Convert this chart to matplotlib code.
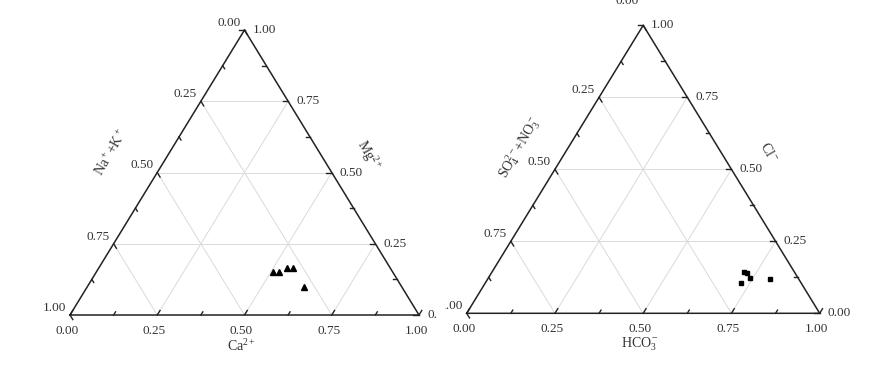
import matplotlib
matplotlib.use('Agg')
import matplotlib.pyplot as plt
import numpy as np

plt.rcParams['font.family'] = ['Liberation Serif', 'DejaVu Serif']
plt.rcParams['mathtext.fontset'] = 'custom'
plt.rcParams['mathtext.rm'] = 'Liberation Serif'
plt.rcParams['mathtext.it'] = 'Liberation Serif'

# cations: bottom = Ca2+, right = Mg2+, left = Na+ + K+
ca = [0.507, 0.524, 0.539, 0.557, 0.621]
mg = [0.151, 0.151, 0.165, 0.165, 0.098]

# anions: bottom = HCO3-, right = Cl-, left = SO4 2- + NO3-
hco3 = [0.724, 0.714, 0.724, 0.742, 0.801]
cl = [0.104, 0.144, 0.139, 0.122, 0.119]

tick_vals = [0.0, 0.25, 0.5, 0.75, 1.0]
tick_labels = ['0.00', '0.25', '0.50', '0.75', '1.00']
minor_vals = [0.125, 0.375, 0.625, 0.875]

W, H = 885, 365


def tern(b, r):
    # b = bottom component, r = right (top vertex) component
    b = np.asarray(b, float)
    r = np.asarray(r, float)
    return b + r / 2.0, r


def ternary_panel(ax, left_px, base_px, width_px, height_px, panel_w,
                  bottom_t, right_t, left_t, b_vals, r_vals, marker, ms,
                  left_off=(-50, 22), top_dy=1):
    ax.set_xlim(-left_px / width_px, (panel_w - left_px) / width_px)
    ax.set_ylim(-base_px / height_px, (H - base_px) / height_px)
    ax.axis('off')

    # grid
    for v in [0.25, 0.5, 0.75]:
        for p0, p1 in [((v, 0), (v, 1 - v)),        # const bottom
                       ((0, v), (1 - v, v)),        # const right
                       ((1 - v, 0), (0, 1 - v))]:   # const left
            x, y = tern([p0[0], p1[0]], [p0[1], p1[1]])
            ax.plot(x, y, color='#dadada', lw=0.7, zorder=1)

    # frame
    x, y = tern([0, 1, 0, 0], [0, 0, 1, 0])
    ax.plot(x, y, color='#222222', lw=1.1, zorder=3, solid_joinstyle='miter')

    # ticks
    for vals, L in [(tick_vals, 0.016), (minor_vals, 0.011)]:
        for v in vals:
            x, y = tern([v, v], [0, L])
            ax.plot(x, y, color='#222222', lw=1.0, zorder=3)
            x, y = tern([1 - v, 1 - v - L], [v, v])
            ax.plot(x, y, color='#222222', lw=1.0, zorder=3)
            x, y = tern([0, L], [1 - v, 1 - v - L])
            ax.plot(x, y, color='#222222', lw=1.0, zorder=3)

    fs = 9.5
    tc = '#333333'
    for v, lab in zip(tick_vals, tick_labels):
        x, y = tern([v], [0])
        ax.annotate(lab, (x[0], y[0]), xytext=(-3, -10), textcoords='offset pixels',
                    ha='center', va='top', fontsize=fs, color=tc, annotation_clip=False,
                    clip_on=True)
        x, y = tern([1 - v], [v])
        ax.annotate(lab, (x[0], y[0]), xytext=(8, 0), textcoords='offset pixels',
                    ha='left', va='center', fontsize=fs, color=tc, annotation_clip=False,
                    clip_on=True)
        x, y = tern([0], [1 - v])
        dy = top_dy if v == 0.0 else 1
        ax.annotate(lab, (x[0], y[0]), xytext=(-4, dy), textcoords='offset pixels',
                    ha='right', va='bottom', fontsize=fs, color=tc, annotation_clip=False,
                    clip_on=True)

    x, y = tern([0.5], [0])
    ax.annotate(bottom_t, (x[0], y[0]), xytext=(-3, -31), textcoords='offset pixels',
                ha='center', va='center', fontsize=10, color=tc)
    x, y = tern([0.5], [0.5])
    ax.annotate(right_t, (x[0], y[0]), xytext=(37, 17), textcoords='offset pixels',
                ha='center', va='center', fontsize=10, color=tc, rotation=-60)
    x, y = tern([0], [0.5])
    ax.annotate(left_t, (x[0], y[0]), xytext=left_off, textcoords='offset pixels',
                ha='center', va='center', fontsize=10, color=tc, rotation=60)

    x, y = tern(b_vals, r_vals)
    ax.plot(x, y, linestyle='none', marker=marker, ms=ms, color='black', zorder=4)


fig = plt.figure(figsize=(W / 100, H / 100), dpi=100)
fig.patch.set_facecolor('white')

ax1 = fig.add_axes([0, 0, 437 / W, 1])
ternary_panel(ax1, 70, 50, 349, 285, 437,
              'Ca$^{2+}$', 'Mg$^{2+}$', 'Na$^+$+K$^+$', ca, mg, '^', 4,
              left_off=(-46, 20))

ax2 = fig.add_axes([445 / W, 0, 440 / W, 1])
ternary_panel(ax2, 21.7, 51.7, 353, 288, 440,
              'HCO$_3^-$', 'Cl$^-$', 'SO$_4^{2-}$+NO$_3^-$', hco3, cl, 's', 3.5,
              left_off=(-35, 22), top_dy=18)

fig.savefig('out.png', dpi=100, facecolor='white')
